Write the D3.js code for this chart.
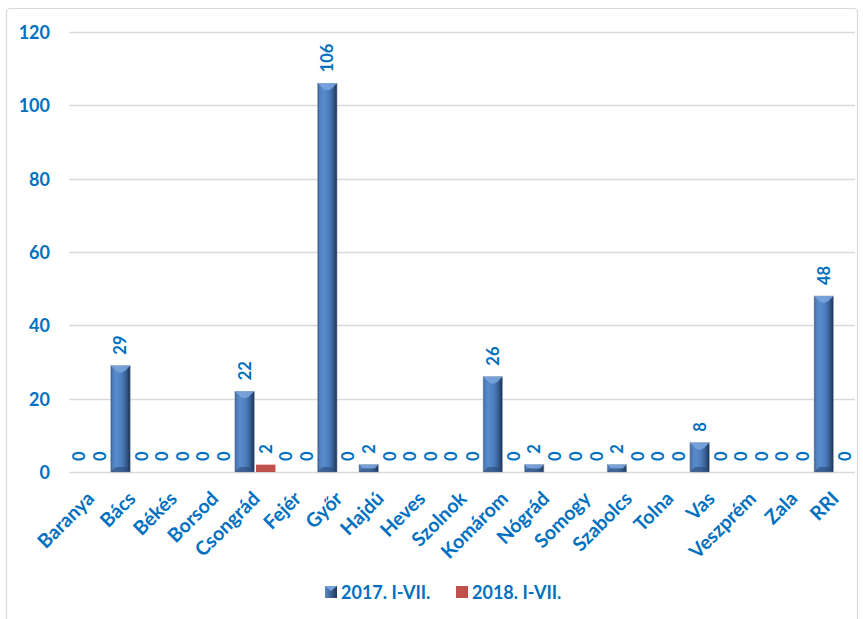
<!DOCTYPE html>
<html>
<head>
<meta charset="utf-8">
<script src="https://cdn.jsdelivr.net/npm/d3@7/dist/d3.min.js"></script>
<style>
  html, body { margin: 0; padding: 0; background: #fff; }
  svg { display: block; font-family: Lato, "Open Sans", sans-serif; font-weight: 700; }
</style>
</head>
<body>
<svg id="chart" width="863" height="619"></svg>
<script>
// Counties / categories along the x axis
const categories = ["Baranya", "Bács", "Békés", "Borsod", "Csongrád", "Fejér", "Győr", "Hajdú",
  "Heves", "Szolnok", "Komárom", "Nógrád", "Somogy", "Szabolcs", "Tolna", "Vas", "Veszprém", "Zala", "RRI"];
const seriesNames = ["2017. I-VII.", "2018. I-VII."];
const values2017 = [0, 29, 0, 0, 22, 0, 106, 2, 0, 0, 26, 2, 0, 2, 0, 8, 0, 0, 48];
const values2018 = [0, 0, 0, 0, 2, 0, 0, 0, 0, 0, 0, 0, 0, 0, 0, 0, 0, 0, 0];
const yTicks = [0, 20, 40, 60, 80, 100, 120];

const textBlue = "#0070C0";
const svg = d3.select("#chart");

// Chart frame
svg.append("rect").attr("x", 6.5).attr("y", 8.5).attr("width", 851).attr("height", 640)
  .attr("rx", 4).attr("fill", "#fff").attr("stroke", "#d9d9d9").attr("stroke-width", 1.2);

const plot = { left: 69, right: 855, top: 32, bottom: 472 };

const x0 = d3.scaleBand().domain(categories).range([plot.left, plot.right]).paddingInner(0).paddingOuter(0);
const x1 = d3.scaleBand().domain(seriesNames).range([0, x0.bandwidth()]).paddingInner(0.08).paddingOuter(0.02);
const y = d3.scaleLinear().domain([0, 120]).range([plot.bottom, plot.top]);

// Gradients for the bevelled 2017 bars
const defs = svg.append("defs");
const g = defs.append("linearGradient").attr("id", "barGrad").attr("x1", "0").attr("x2", "1").attr("y1", "0").attr("y2", "0");
[["0%", "#2f5583"], ["10%", "#4f7fbe"], ["30%", "#5a8bcb"], ["60%", "#4a7aba"], ["82%", "#34598a"], ["100%", "#1b3050"]]
  .forEach(([o, c]) => g.append("stop").attr("offset", o).attr("stop-color", c));

// Gridlines
svg.append("g").selectAll("line").data(yTicks).join("line")
  .attr("x1", plot.left).attr("x2", plot.right)
  .attr("y1", d => Math.round(y(d)) + 0.5).attr("y2", d => Math.round(y(d)) + 0.5)
  .attr("stroke", "#d9d9d9").attr("stroke-width", 1.3);

// Y axis labels
const yAxis = d3.axisLeft(y).tickValues(yTicks).tickSize(0).tickPadding(0);
const yg = svg.append("g").attr("transform", "translate(50,0)").call(yAxis);
yg.select(".domain").remove();
yg.selectAll("text").attr("fill", textBlue).attr("font-size", 18).attr("font-weight", 700)
  .attr("font-family", "Lato, sans-serif").attr("dy", "0.36em");

// X axis labels
const xAxis = d3.axisBottom(x0).tickSize(0).tickPadding(0);
const xg = svg.append("g").attr("transform", `translate(0,${plot.bottom})`).call(xAxis);
xg.select(".domain").remove();
xg.selectAll("text")
  .attr("fill", textBlue).attr("font-size", 19.5).attr("font-weight", 700).attr("font-family", "Lato, sans-serif")
  .attr("text-anchor", "end").attr("transform", "translate(1,23) rotate(-45)").attr("dy", "0.35em").attr("y", 0);

// Draw one bevelled bar
function bevelBar(sel, x, yTop, w, h) {
  const grp = sel.append("g");
  grp.append("rect").attr("x", x).attr("y", yTop).attr("width", w).attr("height", h)
    .attr("fill", "url(#barGrad)").attr("stroke", "#9aa6b8").attr("stroke-width", 0.6);
  const b = Math.min(5, h / 2, w / 2);
  grp.append("polygon")
    .attr("points", [[x, yTop], [x + w, yTop], [x + w - b, yTop + b], [x + w / 2 + 1, yTop + b + 2], [x + w / 2 - 1, yTop + b + 2], [x + b, yTop + b]].map(p => p.join(",")).join(" "))
    .attr("fill", "#79a3dc").attr("opacity", 0.9);
  grp.append("polygon")
    .attr("points", [[x, yTop + h], [x + w, yTop + h], [x + w - b, yTop + h - b], [x + b, yTop + h - b]].map(p => p.join(",")).join(" "))
    .attr("fill", "#2a4a75").attr("opacity", 0.6);
}

const bars = svg.append("g");
const rows = categories.map((c, i) => ({ cat: c, v17: values2017[i], v18: values2018[i] }));
rows.forEach(r => {
  const bx = x0(r.cat) + x1(seriesNames[0]);
  if (r.v17 > 0) bevelBar(bars, bx, y(r.v17), x1.bandwidth(), y(0) - y(r.v17));
  const rx = x0(r.cat) + x1(seriesNames[1]);
  if (r.v18 > 0) bars.append("rect").attr("x", rx).attr("y", y(r.v18)).attr("width", x1.bandwidth())
    .attr("height", y(0) - y(r.v18)).attr("fill", "#C0504D");
});

// Value labels, rotated, above each bar
const labels = [];
rows.forEach(r => {
  labels.push({ x: x0(r.cat) + x1(seriesNames[0]) + x1.bandwidth() / 2, v: r.v17 });
  labels.push({ x: x0(r.cat) + x1(seriesNames[1]) + x1.bandwidth() / 2, v: r.v18 });
});
svg.append("g").selectAll("text").data(labels).join("text")
  .attr("transform", d => `translate(${d.x},${y(d.v) - 11}) rotate(-90)`)
  .attr("dy", "0.36em").attr("text-anchor", "start")
  .attr("fill", textBlue).attr("font-size", 16.5).attr("font-weight", 700).attr("font-family", "Lato, sans-serif")
  .text(d => d.v);

// Legend
const legend = svg.append("g").attr("transform", "translate(325,586)");
const lg = defs.append("linearGradient").attr("id", "legGrad").attr("x1", "0").attr("x2", "1");
[["0%", "#5a8bcb"], ["100%", "#1f3658"]].forEach(([o, c]) => lg.append("stop").attr("offset", o).attr("stop-color", c));
legend.append("rect").attr("x", 0).attr("y", 0).attr("width", 12).attr("height", 12).attr("fill", "url(#legGrad)");
legend.append("polygon").attr("points", "0,0 12,0 6,5").attr("fill", "#79a3dc");
legend.append("text").attr("x", 16).attr("y", 12.5).text(seriesNames[0])
  .attr("fill", textBlue).attr("font-size", 18).attr("font-weight", 700);
legend.append("rect").attr("x", 131).attr("y", 0).attr("width", 12).attr("height", 12).attr("fill", "#C0504D");
legend.append("text").attr("x", 147).attr("y", 12.5).text(seriesNames[1])
  .attr("fill", textBlue).attr("font-size", 18).attr("font-weight", 700);
</script>
</body>
</html>
